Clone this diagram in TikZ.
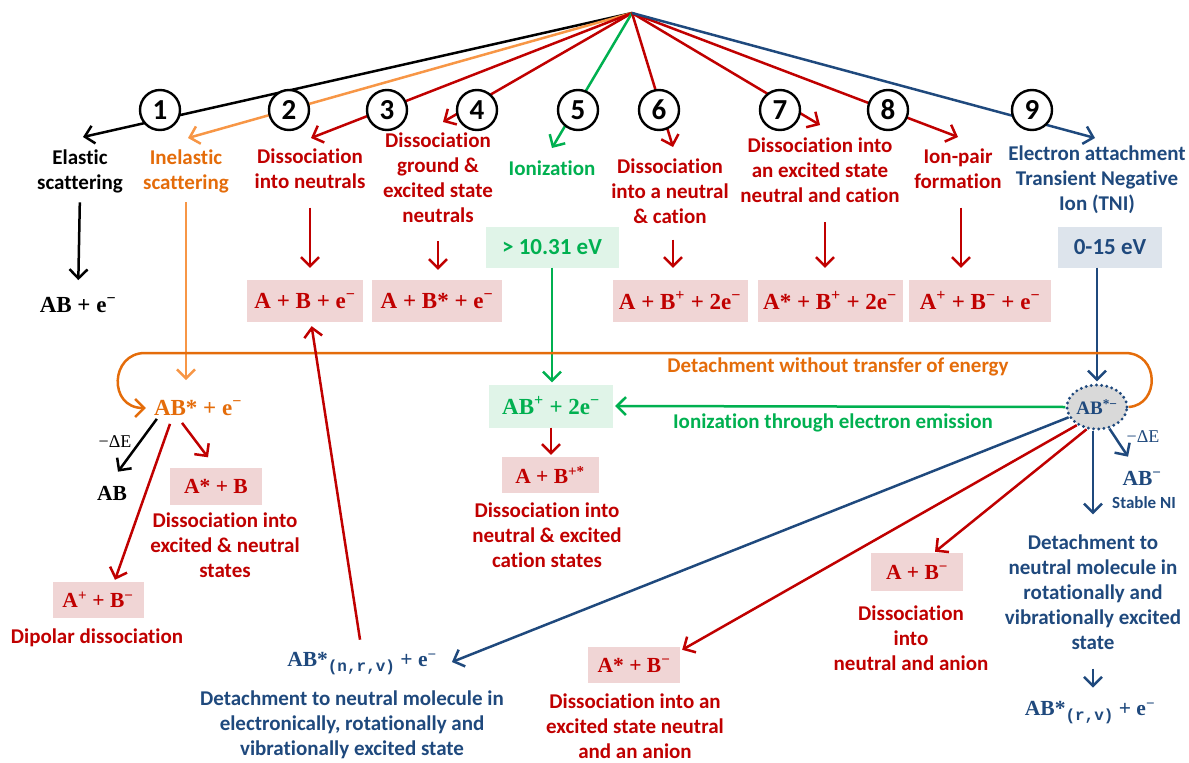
\documentclass[tikz,border=0pt]{standalone}
\usepackage{fontspec}
\setmainfont{Carlito}[RawFeature={-liga}]
\newfontfamily\fml{Liberation Serif}
\newfontfamily\fmono{Liberation Mono}
\usetikzlibrary{arrows.meta,shapes.geometric}
\definecolor{cred}{HTML}{C00000}
\definecolor{cgreen}{HTML}{00B050}
\definecolor{cblue}{HTML}{1F497D}
\definecolor{corg}{HTML}{E46C0A}
\definecolor{corgl}{HTML}{F79646}
\definecolor{cpink}{HTML}{F0D5D5}
\definecolor{cgbox}{HTML}{E0F4E8}
\definecolor{cbbox}{HTML}{DDE4EC}
\definecolor{cgrey}{HTML}{D9D9D9}
\newcommand{\upx}[1]{\textsuperscript{#1}}
\newcommand{\lowx}[1]{\raisebox{-5pt}{\fontsize{16}{16}\selectfont\fmono\bfseries #1}}
\begin{document}
\begin{tikzpicture}[x=1pt,y=-1pt,
  lbl/.style={font=\fontsize{21}{25}\selectfont\bfseries, align=center, inner sep=0pt},
  fm/.style={font=\fontsize{23}{27}\selectfont\fml\bfseries, inner sep=0pt},
  fms/.style={font=\fontsize{21.5}{25}\selectfont\fml\bfseries, inner sep=0pt},
  pbox/.style={fm, text=cred, fill=cpink, minimum height=42pt},
  pboxs/.style={fms, text=cred, fill=cpink, minimum height=37pt},
  ebox/.style={font=\fontsize{23}{23}\selectfont\bfseries, minimum height=41pt, inner sep=0pt},
  num/.style={circle, draw=black, line width=2.4pt, fill=white, minimum size=40pt, inner sep=0pt, font=\fontsize{29}{29}\selectfont\bfseries},
  arr/.style={line width=2.5pt, -{Straight Barb[length=9pt,width=18pt]}},
  dE/.style={font=\fontsize{18}{18}\selectfont\fml, inner sep=0pt}
]
\useasboundingbox (0,0) rectangle (1189,763);

% apex and arrow tips
\coordinate (apex) at (632,13);
\coordinate (t1) at (83,137);
\coordinate (t2) at (188,138);
\coordinate (t3) at (311,138);
\coordinate (t4) at (443,122);
\coordinate (t5) at (552,148);
\coordinate (t6) at (673,147);
\coordinate (t7) at (820,125);
\coordinate (t8) at (958,137);
\coordinate (t9) at (1095,138);

\draw[arr, black] (apex) -- (t1);
\draw[arr, corgl] (apex) -- (t2);
\draw[arr, cred] (apex) -- (t3);
\draw[arr, cred] (apex) -- (t4);
\draw[arr, cgreen] (apex) -- (t5);
\draw[arr, cred] (apex) -- (t6);
\draw[arr, cred] (apex) -- (t7);
\draw[arr, cred] (apex) -- (t8);
\draw[arr, cblue] (apex) -- (t9);

\node[num] (n1) at (160,110) {1};
\node[num] (n2) at (289,110) {2};
\node[num] (n3) at (387,110) {3};
\node[num] (n4) at (477,110) {4};
\node[num] (n5) at (578,110) {5};
\node[num] (n6) at (659,110) {6};
\node[num] (n7) at (780,110) {7};
\node[num] (n8) at (888,110) {8};
\node[num] (n9) at (1032,110) {9};

% process labels
\node[lbl] (L1) at (80,171) {Elastic\\scattering};
\node[lbl, text=corg] (L2) at (186,171) {Inelastic\\scattering};
\node[lbl, text=cred] (L3) at (310,168.5) {Dissociation\\into neutrals};
\node[lbl, text=cred] (L4) at (438,178) {Dissociation\\ground \&\\excited state\\neutrals};
\node[lbl, text=cgreen] (L5) at (552,168) {Ionization};
\node[lbl, text=cred] (L6) at (670,191) {Dissociation\\into a neutral\\\& cation};
\node[lbl, text=cred] (L7) at (820,170.5) {Dissociation into\\an excited state\\neutral and cation};
\node[lbl, text=cred] (L8) at (958,168.5) {Ion-pair\\formation};
\node[lbl, text=cblue] (L9) at (1097,180) {Electron attachment\\Transient Negative\\Ion (TNI)};

% first products
\node[fm] (r1) at (78,305) {AB + e\upx{−}};
\node[pbox, minimum width=116pt] (b3) at (305,301) {A + B + e\upx{−}};
\node[pbox, minimum width=130pt] (b4) at (437,301) {A + B* + e\upx{−}};
\node[pbox, minimum width=135pt] (b6) at (680,301) {A + B\upx{+} + 2e\upx{−}};
\node[pbox, minimum width=145pt] (b7) at (830,301) {A* + B\upx{+} + 2e\upx{−}};
\node[pbox, minimum width=142pt] (b8) at (980,301) {A\upx{+} + B\upx{−} + e\upx{−}};
\node[ebox, text=cgreen, fill=cgbox, minimum width=133pt] (e5) at (552,247) {> 10.31 eV};
\node[ebox, text=cblue, fill=cbbox, minimum width=104pt] (e9) at (1110,247) {0-15 eV};

\draw[arr, black, shorten <=9.5pt, shorten >=17pt] (L1.south) -- (r1.north);
\draw[arr, cred, shorten <=19pt, shorten >=12pt] (L3.south) -- (L3.south |- b3.north);
\draw[arr, cred, shorten <=18pt, shorten >=10pt] (L4.south) -- (L4.south |- b4.north);
\draw[arr, cred, shorten <=16pt, shorten >=12pt] ([xshift=3pt]L6.south) -- ([xshift=3pt]L6.south |- b6.north);
\draw[arr, cred, shorten <=19pt, shorten >=12pt] ([xshift=5pt]L7.south) -- ([xshift=5pt]L7.south |- b7.north);
\draw[arr, cred, shorten <=19pt, shorten >=12pt] ([xshift=3pt]L8.south) -- ([xshift=3pt]L8.south |- b8.north);

% middle row
\node[fm, text=corg] (abe) at (198,408) {AB* + e\upx{−}};
\node[fm, text=cgreen, fill=cgbox, minimum width=124pt, minimum height=43pt] (abp) at (551,406) {AB\upx{+} + 2e\upx{−}};
\node[ellipse, draw=cblue, line width=3.2pt, dash pattern=on 0pt off 5.2pt, line cap=round, fill=cgrey, minimum width=60pt, minimum height=44pt, inner sep=0pt, font=\fontsize{19}{19}\selectfont\fml\bfseries, text=cblue] (ell) at (1097,407) {AB\upx{*−}};

\draw[arr, corgl, shorten <=9.5pt, shorten >=20pt] (L2.south) -- (L2.south |- abe.north);
\draw[arr, cgreen, shorten >=2pt] (e5.south) -- (e5.south |- abp.north);
\draw[arr, cblue, shorten >=2pt] (ell.north |- e9.south) -- (ell.north);

\draw[line width=2.5pt, corg, -{Straight Barb[length=9pt,width=18pt]}, shorten >=8pt]
  (ell.east) .. controls (1160,405) and (1160,353) .. (1125,353) -- (145,353)
  .. controls (110,353) and (108,408) .. (abe.west);
\node[font=\fontsize{21}{21}\selectfont\bfseries, text=corg, inner sep=0pt] (lloop) at (838,367) {Detachment without transfer of energy};

\draw[arr, cgreen, shorten >=2pt] (ell.west) -- (abp.east);
\node[font=\fontsize{21}{21}\selectfont\bfseries, text=cgreen, inner sep=0pt] (lion) at (833,423) {Ionization through electron emission};

% below AB+ + 2e-
\node[pboxs, minimum width=97pt, minimum height=36pt] (b5) at (550,475) {A + B\upx{+*}};
\draw[arr, cred, shorten >=2pt] (abp.south) -- (abp.south |- b5.north);
\node[lbl, text=cred] (L5b) at (547,535) {Dissociation into\\neutral \& excited\\cation states};

% AB* + e- branches
\node[fms] (ab0) at (112,493) {AB};
\node[dE] (dE1) at (115,442) {−ΔE};
\node[pboxs, minimum width=92pt] (asb1) at (216,486) {A* + B};
\node[lbl, text=cred] (Lasb1) at (225,545) {Dissociation into\\excited \& neutral\\states};
\node[pboxs, minimum width=91pt, minimum height=36pt] (apb) at (98,600) {A\upx{+} + B\upx{−}};
\node[lbl, text=cred] (Lapb) at (97,638) {Dipolar dissociation};

\draw[arr, black] ([shift={(3,3)}]abe.south west) -- ([shift={(6,-14)}]ab0.north);
\draw[arr, cred] ([shift={(-16,7)}]abe.south) -- ([shift={(-8,-10)}]asb1.north);
\draw[arr, cred] ([shift={(-28,8)}]abe.south) -- ([shift={(17,-2)}]apb.north);

% bottom row
\node[fms, text=cblue] (nrv) at (362,664) {AB*\lowx{(n,r,v)} + e\upx{−}};
\node[lbl, text=cblue] (Lnrv) at (352,725) {Detachment to neutral molecule in\\electronically, rotationally and\\vibrationally excited state};
\node[pboxs, minimum width=92pt, minimum height=36pt] (asb) at (634,665) {A* + B\upx{−}};
\node[lbl, text=cred] (Lasb) at (635,726) {Dissociation into an\\excited state neutral\\and an anion};
\node[pboxs, minimum width=92pt, minimum height=38pt] (abm2) at (917,572) {A + B\upx{−}};
\node[lbl, text=cred] (Labm2) at (911,638) {Dissociation\\into\\neutral and anion};
\node[fms, text=cblue] (abm) at (1142,478) {AB\upx{−}};
\node[dE, text=cblue] (dE2) at (1143,437) {−ΔE};
\node[font=\fontsize{17}{17}\selectfont\bfseries, text=cblue, inner sep=0pt] (sni) at (1144,503) {Stable NI};
\node[lbl, text=cblue] (Ldr) at (1093,592) {Detachment to\\neutral molecule in\\rotationally and\\vibrationally excited\\state};
\node[fms, text=cblue] (abrv) at (1090,713) {AB*\lowx{(r,v)} + e\upx{−}};

\draw[arr, cred, shorten <=13pt, shorten >=4pt] (nrv.north) -- ([xshift=6pt]b3.south);
\draw[arr, cblue] (ell.200) -- ([shift={(15,-2)}]nrv.east);
\draw[arr, cred] (ell.222) -- ([shift={(2,3)}]asb.north east);
\draw[arr, cred] (ell.245) -- ([shift={(18,-1)}]abm2.north);
\draw[arr, cblue, shorten >=20pt] ([xshift=-4pt]ell.south) -- ([xshift=-4pt]ell.south |- Ldr.north);
\draw[arr, cblue] (ell.-60) -- ([shift={(-14,-14)}]abm.north);
\draw[arr, cblue, shorten <=19pt, shorten >=14pt] (Ldr.south) -- (Ldr.south |- abrv.north);
\end{tikzpicture}
\end{document}
